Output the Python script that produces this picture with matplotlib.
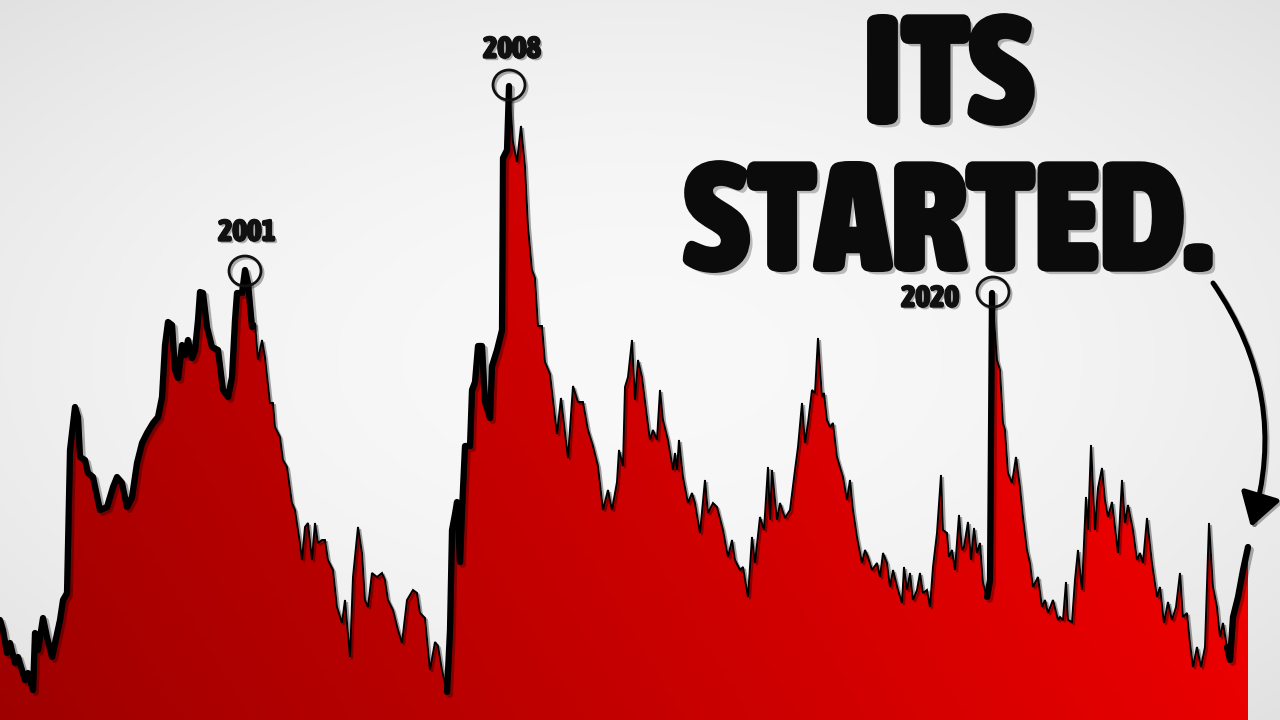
import numpy as np
import matplotlib.pyplot as plt
import matplotlib.patheffects as pe
from matplotlib import font_manager as fm
from matplotlib.patches import Ellipse, FancyArrowPatch

# time axis (horizontal position along the chart) and level
t = [0, 3, 7, 10, 15, 18, 22, 25, 28, 33, 35, 38, 43, 47, 52, 55, 60, 63, 67, 70,
     75, 78, 80, 85, 88, 93, 100, 107, 113, 117, 122, 127, 132, 137, 142, 147, 153, 158, 162, 165,
     168, 172, 175, 178, 182, 185, 188, 192, 195, 198, 200, 203, 207, 212, 218, 223, 228, 232, 235, 237,
     242, 245, 248, 252,
     255, 258, 262, 265, 270, 273, 275, 280, 283, 287, 292, 295, 300, 302, 305, 308, 312, 315, 318, 322,
     325, 328, 333, 337, 342, 345, 350, 353, 358, 362, 365, 368, 372, 377, 382, 385, 388, 393, 398, 402,
     407, 413, 417, 420, 425, 430, 435, 438, 442, 447,
     450, 452, 455, 457, 460, 462, 465, 470, 472, 475, 478, 482, 485, 490, 492, 497, 502, 503, 507, 509,
     513, 517, 521, 525, 528, 532, 535, 538, 542, 545, 550, 557, 561, 568, 573, 578, 583, 588, 593, 598,
     603, 608, 612, 617, 619, 623, 625, 628, 632, 635, 638, 642, 647, 650, 653, 657, 660, 663, 668, 673,
     675, 677, 679, 683, 688, 692, 695, 700, 705, 708, 713, 717, 723, 728, 732, 735, 740, 743, 748, 752,
     755, 760, 764, 768, 770, 772, 777, 780, 785, 790, 795, 798, 802, 805, 808, 812, 815, 818, 822, 824,
     827, 830, 833, 837, 840, 843, 847, 850, 853, 857, 862, 865, 868, 872, 877, 880, 883, 887, 890, 893,
     898, 902, 904, 907, 910, 913, 917, 920, 923, 927, 930, 933, 937, 941, 943, 947, 949, 952, 955, 959,
     962, 964, 968, 971, 974, 977, 980, 983, 987,
     990, 992,
     997, 1000, 1003, 1005, 1008, 1012, 1016, 1020, 1023, 1027, 1030, 1033, 1038, 1042, 1045, 1048, 1053, 1058, 1060, 1063,
     1066, 1068, 1072, 1075, 1078, 1082, 1086, 1088, 1091, 1095, 1098, 1102, 1105, 1108, 1112, 1115, 1118, 1122, 1125, 1128,
     1133, 1137, 1140, 1143, 1147, 1152, 1157, 1160, 1164, 1168, 1172, 1176, 1180, 1183, 1187, 1190, 1193, 1197, 1201, 1205,
     1209, 1213, 1217, 1220, 1223, 1227, 1230,
     1233, 1238, 1243, 1248]

level = [100, 90, 67, 77, 57, 63, 50, 40, 47, 30, 87, 70, 102, 83, 63, 77, 100, 120, 127, 270,
         313, 303, 263, 260, 247, 243, 210, 213, 233, 243, 237, 213, 223, 257, 277, 287, 297, 303, 323, 375,
         398, 395, 350, 342, 375, 365, 380, 362, 370, 400, 428, 427, 393, 373, 370, 330, 323, 343, 400, 427,
         427, 450, 437, 393,
         397, 360, 380, 363, 317, 317, 293, 283, 260, 253, 217, 210, 177, 160, 193, 197, 160, 197, 177, 180,
         180, 160, 150, 113, 97, 120, 63, 143, 193, 167, 120, 113, 147, 143, 147, 140, 120, 110, 90, 77,
         120, 130, 127, 107, 102, 50, 78, 74, 50, 28,
         90, 190, 206, 218, 158, 210, 274, 274, 330, 338, 374, 374, 318, 302, 354, 370, 390, 562, 570, 634,
         578, 558, 594, 554, 494, 450, 442, 394, 394, 358, 346, 286, 322, 262, 334, 318, 318, 290, 274, 254,
         210, 230, 210, 238, 270, 254, 333, 343, 380, 320, 360, 343, 303, 280, 290, 280, 330, 300, 280, 250,
         267, 250, 280, 243, 217, 227, 217, 187, 240, 207, 217, 213, 190, 163, 180, 160, 150, 153, 123, 183,
         157, 203, 190, 253, 200, 250, 200, 217, 202, 210, 250, 273, 317, 277, 297, 330, 327, 382, 323, 327,
         300, 293, 297, 263, 253, 243, 220, 240, 210, 183, 157, 170, 163, 150, 157, 143, 167, 157, 133, 150,
         130, 117, 153, 130, 147, 120, 130, 147, 127, 130, 113, 153, 187, 245, 190, 187, 163, 170, 150, 205,
         170, 173, 198, 160, 192, 167, 177, 137, 123,
         140, 427,
         360, 350, 297, 290, 247, 237, 263, 233, 203, 170, 157, 133, 143, 113, 120, 107, 120, 100, 103, 100,
         138, 100, 98, 140, 170, 130, 223, 190, 275, 190, 232, 252, 220, 203, 218, 193, 167, 240, 197, 215,
         190, 160, 167, 157, 202, 157, 123, 133, 97, 118, 100, 113, 147, 103, 107, 77, 53, 73, 53, 73,
         197, 133, 113, 83, 97, 73, 60,
         103, 123, 150, 173]

# annotated peaks
peak_labels = ['2001', '2008', '2020']
peak_t = [245, 509, 993]
peak_level = [449, 635, 428]

title_lines = ['ITS', 'STARTED.']


def narrow_bold_font():
    # look for any installed condensed / narrow bold face
    best = None
    for f in fm.fontManager.ttflist:
        key = (f.name + ' ' + f.fname).lower()
        if 'italic' in key or 'oblique' in key:
            continue
        narrow = ('narrow' in key or 'condensed' in key or 'compressed' in key
                  or str(f.stretch) in ('condensed', 'semi-condensed', 'extra-condensed', 'ultra-condensed'))
        w = f.weight
        if not isinstance(w, (int, float)):
            w = {'bold': 700, 'black': 900, 'heavy': 800, 'extra bold': 800,
                 'semibold': 600, 'demibold': 600}.get(str(w).lower(), 400)
        if narrow and w >= 600:
            if best is None or w > best[0]:
                best = (w, f.fname)
    if best:
        return fm.FontProperties(fname=best[1])
    return fm.FontProperties(family='DejaVu Sans', weight='bold')


t = np.array(t, dtype=float)
level = np.array(level, dtype=float)

W, H = 1280, 720
fig = plt.figure(figsize=(12.8, 7.2), dpi=100)
ax = fig.add_axes([0, 0, 1, 1])
ax.set_xlim(0, W)
ax.set_ylim(0, H)
ax.axis('off')

# light grey vignette background
yy, xx = np.mgrid[0:1:200j, 0:1:356j]
r = np.hypot((xx - 0.5) / 0.7, (yy - 0.5) / 0.7)
bg = np.clip(0.975 - 0.09 * r ** 2, 0, 1)
ax.imshow(np.dstack([bg, bg, bg]), extent=[0, W, 0, H], origin='lower',
          aspect='auto', zorder=0)

# red gradient area
gx = np.linspace(0, 1, 256)[None, :]
gy = np.linspace(0, 1, 128)[:, None]
red = np.clip(0.62 + 0.30 * gx + 0.10 * gy, 0, 1)
zero = np.zeros_like(red)
im = ax.imshow(np.dstack([red, zero, zero]), extent=[0, W, 0, H], origin='lower',
               aspect='auto', zorder=1)
area = ax.fill_between(t, level, 0, facecolor='none', edgecolor='none', zorder=1)
im.set_clip_path(area.get_paths()[0], ax.transData)

shadow = [pe.SimpleLineShadow(offset=(1.5, -1.5), shadow_color='k', alpha=0.35), pe.Normal()]
ax.plot(t, level, color='black', lw=1.4, solid_joinstyle='miter', zorder=3,
        path_effects=shadow)

# thicker stroke over the crisis stretches
for a, b in [(0, 252), (445, 510), (985, 993), (1226, 1248)]:
    m = (t >= a) & (t <= b)
    ax.plot(t[m], level[m], color='black', lw=4.5, solid_capstyle='round',
            solid_joinstyle='round', zorder=4,
            path_effects=[pe.SimpleLineShadow(offset=(2, -2), shadow_color='k', alpha=0.3), pe.Normal()])

fp = narrow_bold_font()
renderer = fig.canvas.get_renderer()

# size the headline so that "STARTED." spans roughly the width seen in the thumbnail
probe = ax.text(0, 0, title_lines[1], fontproperties=fp, fontsize=100)
wpx = probe.get_window_extent(renderer).width
probe.remove()
big = min(100 * 590 / wpx, 110)
cap = big * 100 / 72 * 0.72

probe = ax.text(0, 0, '2001', fontproperties=fp, fontsize=24)
wpx = probe.get_window_extent(renderer).width
probe.remove()
small = min(24 * 58 / wpx, 24)
small_cap = small * 100 / 72 * 0.72

line_fx = [pe.SimpleLineShadow(offset=(1.5, -1.5), shadow_color='k', alpha=0.3), pe.Normal()]
txt_fx = [pe.SimplePatchShadow(offset=(1.5, -1.5), alpha=0.3),
          pe.Stroke(linewidth=0.8, foreground='#111111'), pe.Normal()]
label_center = [(247, 490), (512, 673), (930, 424)]
for lab, px, py, (lx, ly) in zip(peak_labels, peak_t, peak_level, label_center):
    ax.add_patch(Ellipse((px, py), 32, 30, fill=False, ec='#111111', lw=2, zorder=6,
                         path_effects=line_fx))
    ax.text(lx, ly - small_cap / 2, lab, ha='center', va='baseline', fontsize=small,
            fontproperties=fp, color='#111111', zorder=7, path_effects=txt_fx)

big_fx = [pe.SimplePatchShadow(offset=(3, -3), alpha=0.25),
          pe.Stroke(linewidth=2.5, foreground='#0b0b0b'), pe.Normal()]
ax.text(948, 652 - cap / 2, title_lines[0], ha='center', va='baseline', fontsize=big,
        fontproperties=fp, color='#0b0b0b', zorder=8, path_effects=big_fx)
ax.text(948, 505 - cap / 2, title_lines[1], ha='center', va='baseline', fontsize=big,
        fontproperties=fp, color='#0b0b0b', zorder=8, path_effects=big_fx)

arrow = FancyArrowPatch((1213, 437), (1251, 193), connectionstyle='arc3,rad=-0.24',
                        arrowstyle='-|>,head_length=1.0,head_width=0.62', mutation_scale=20,
                        lw=3.6, color='black', shrinkA=0, shrinkB=0, zorder=8,
                        path_effects=line_fx)
ax.add_patch(arrow)

fig.savefig('out.png', dpi=100)
